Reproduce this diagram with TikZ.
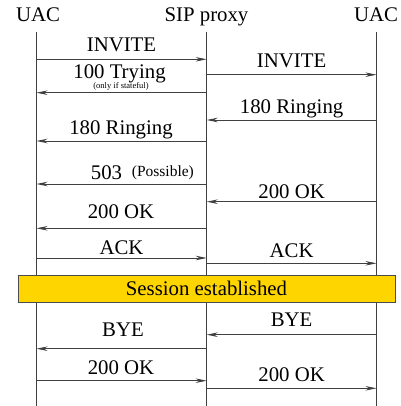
\documentclass[tikz,border=0pt]{standalone}
\usepackage{fontspec}
\setmainfont{Liberation Serif}
\usetikzlibrary{arrows.meta}
\definecolor{sessgold}{HTML}{FFD500}
\begin{document}
\begin{tikzpicture}[x=1pt,y=-1pt,
  life/.style={draw=black!75, line width=0.9pt},
  msg/.style={draw=black!75, line width=0.9pt, -{Stealth[length=11pt,width=4.5pt,inset=3.5pt]}},
  lbl/.style={font=\fontsize{20.8}{24}\selectfont, anchor=base, inner sep=0pt},
  tiny/.style={font=\fontsize{8.5}{10}\selectfont, anchor=base, inner sep=0pt},
  mid/.style={font=\fontsize{15.5}{18}\selectfont, anchor=base west, inner sep=0pt},
  sessbox/.style={draw=black!70, fill=sessgold, line width=0.9pt, inner sep=0pt,
    minimum width=377pt, minimum height=27pt, font=\fontsize{20.8}{24}\selectfont}]
\useasboundingbox (0,0) rectangle (400,406);
\def\xL{36.5}
\def\xM{206.7}
\def\xR{376.5}
% lifelines
\coordinate (t1) at (\xL,31.7); \coordinate (b1) at (\xL,406);
\coordinate (t2) at (\xM,31.7); \coordinate (b2) at (\xM,406);
\coordinate (t3) at (\xR,31.7); \coordinate (b3) at (\xR,406);
% headers
\node[lbl] (h1) at (38,21.7) {UAC};
\node[lbl] (h2) at (206.5,21.7) {SIP proxy};
\node[lbl] (h3) at (376,21.7) {UAC};
\draw[life] (t1) -- (b1);
\draw[life] (t2) -- (b2);
\draw[life] (t3) -- (b3);
% messages
\coordinate (a1) at (\xL,59.3);  \coordinate (c1) at (\xM,59.3);
\draw[msg] (a1) -- (c1);
\node[lbl] (n1) at (121.5,51.7) {INVITE};
\coordinate (a2) at (\xM,74.7);  \coordinate (c2) at (\xR,74.7);
\draw[msg] (a2) -- (c2);
\node[lbl] (n2) at (291.6,67.3) {INVITE};
\coordinate (a3) at (\xM,92.7);  \coordinate (c3) at (\xL,92.7);
\draw[msg] (a3) -- (c3);
\node[lbl] (n3) at (119.5,78.3) {100 Trying};
\node[tiny] (n3b) at (121,89) {(only if stateful)};
\coordinate (a4) at (\xR,120);  \coordinate (c4) at (\xM,120);
\draw[msg] (a4) -- (c4);
\node[lbl] (n4) at (291.6,113.3) {180 Ringing};
\coordinate (a5) at (\xM,141);  \coordinate (c5) at (\xL,141);
\draw[msg] (a5) -- (c5);
\node[lbl] (n5) at (121,135) {180 Ringing};
\coordinate (a6) at (\xM,184);  \coordinate (c6) at (\xL,184);
\draw[msg] (a6) -- (c6);
\node[lbl, anchor=base west] (n6) at (90.7,179.3) {503};
\node[mid] (n6b) at (131.7,176.3) {(Possible)};
\coordinate (a7) at (\xR,201.7);  \coordinate (c7) at (\xM,201.7);
\draw[msg] (a7) -- (c7);
\node[lbl] (n7) at (291.6,198.3) {200 OK};
\coordinate (a8) at (\xM,228.3);  \coordinate (c8) at (\xL,228.3);
\draw[msg] (a8) -- (c8);
\node[lbl] (n8) at (121,218.3) {200 OK};
\coordinate (a9) at (\xL,258);  \coordinate (c9) at (\xM,258);
\draw[msg] (a9) -- (c9);
\node[lbl] (n9) at (121.5,254) {ACK};
\coordinate (a10) at (\xM,263.3);  \coordinate (c10) at (\xR,263.3);
\draw[msg] (a10) -- (c10);
\node[lbl] (n10) at (291.6,257.3) {ACK};
% session
\node[sessbox] (sess) at (206.5,288.5) {Session established};
\coordinate (a11) at (\xR,334.7);  \coordinate (c11) at (\xM,334.7);
\draw[msg] (a11) -- (c11);
\node[lbl] (n11) at (291.6,326) {BYE};
\coordinate (a12) at (\xM,348.7);  \coordinate (c12) at (\xL,348.7);
\draw[msg] (a12) -- (c12);
\node[lbl] (n12) at (123,336.7) {BYE};
\coordinate (a13) at (\xL,380.7);  \coordinate (c13) at (\xM,380.7);
\draw[msg] (a13) -- (c13);
\node[lbl] (n13) at (121,374.3) {200 OK};
\coordinate (a14) at (\xM,388.3);  \coordinate (c14) at (\xR,388.3);
\draw[msg] (a14) -- (c14);
\node[lbl] (n14) at (291.6,381.7) {200 OK};
\end{tikzpicture}
\end{document}
